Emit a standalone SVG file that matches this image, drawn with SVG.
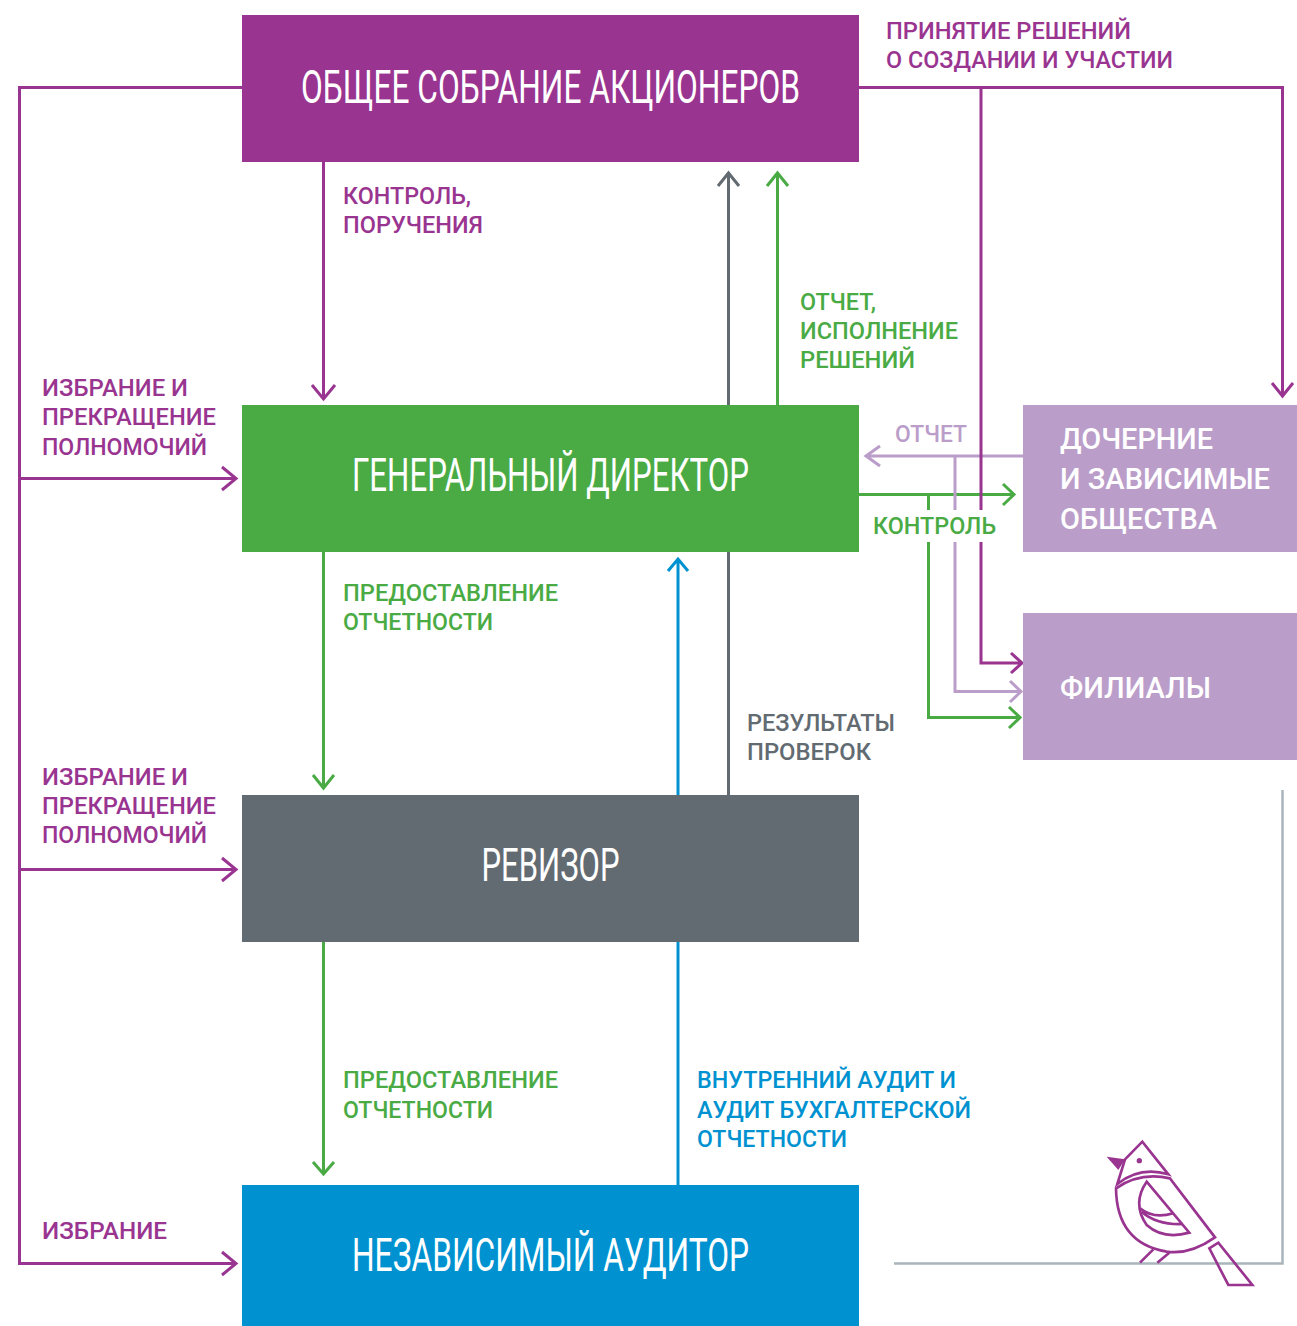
<svg xmlns="http://www.w3.org/2000/svg" width="1297" height="1326" viewBox="0 0 1297 1326">
<style>
.c{fill:none;stroke-width:3}
.p{stroke:#993590}.g{stroke:#4aab45}.d{stroke:#636b72}.b{stroke:#0092d0}.l{stroke:#bb9dca}
.t{font-family:"Roboto","Liberation Sans",sans-serif;font-size:24px;font-weight:500}
.tp{fill:#993590}.tg{fill:#4aab45}.td{fill:#636b72}.tb{fill:#0092d0}.tl{fill:#bb9dca}.tw{fill:#fff}
.s{font-size:29px}
.h{font-family:"Roboto","Liberation Sans",sans-serif;font-size:46px;font-weight:400;fill:#fff;text-anchor:middle}
</style>
<rect width="1297" height="1326" fill="#fff"/>
<g id="connectors">
<path class="c p" d="M242 87.500H19.500V1263.500H236M20 478.500H236M20 869.500H236"/>
<path class="c p" d="M222 467L236 478.500L222 490M222 858L236 869.500L222 881M222 1252L236 1263.500L222 1275"/>
<path class="c p" d="M323.500 162V399M312 385L323.500 399L335 385"/>
<path class="c d" d="M728.500 405V173M718 186L728.500 173L739 186"/>
<path class="c g" d="M777.500 405V173M767 186L777.500 173L788 186"/>
<path class="c p" d="M859 87.500H1282.500V396M1272 383L1282.500 396L1293 383"/>
<path class="c l" d="M1023 456H866M880 446L866 456L880 466"/>
<path class="c g" d="M859 494.500H1014M1003 484L1014 494.500L1003 505"/>
<path class="c l" d="M955 456V691.500H1021M1010 681L1021 691.500L1010 702"/>
<path class="c g" d="M928.500 495V717.500H1020M1009 707L1020 717.500L1009 728"/>
<path class="c p" d="M981 87V663H1022M1011 653L1022 663L1011 673"/>
<path class="c g" d="M323.500 552V788M313 775L323.500 788L334 775"/>
<path class="c b" d="M678 795V559M668 571L678 559L688 571"/>
<path class="c d" d="M728.500 795V552"/>
<path class="c g" d="M323.500 942V1174M313 1162L323.500 1174L334 1162"/>
<path class="c b" d="M678 1185V942"/>
<path d="M894 1263.500H1282.500V790" fill="none" stroke="#a9b5ba" stroke-width="2.500"/>
</g>
<g id="node-shareholders"><rect x="242" y="15" width="617" height="147" fill="#993590"/><text class="h" x="550.500" y="103" textLength="499" lengthAdjust="spacingAndGlyphs">ОБЩЕЕ СОБРАНИЕ АКЦИОНЕРОВ</text></g>
<g id="node-director"><rect x="242" y="405" width="617" height="147" fill="#4aab45"/><text class="h" x="550.500" y="491" textLength="397" lengthAdjust="spacingAndGlyphs">ГЕНЕРАЛЬНЫЙ ДИРЕКТОР</text></g>
<g id="node-revisor"><rect x="242" y="795" width="617" height="147" fill="#636b72"/><text class="h" x="550.500" y="881" textLength="138" lengthAdjust="spacingAndGlyphs">РЕВИЗОР</text></g>
<g id="node-auditor"><rect x="242" y="1185" width="617" height="141" fill="#0092d0"/><text class="h" x="550.500" y="1271" textLength="397" lengthAdjust="spacingAndGlyphs">НЕЗАВИСИМЫЙ АУДИТОР</text></g>
<g id="node-subsidiaries"><rect x="1023" y="405" width="274" height="147" fill="#bb9dca"/>
<text class="t tw s" x="1060" y="449" textLength="153" lengthAdjust="spacingAndGlyphs">ДОЧЕРНИЕ</text>
<text class="t tw s" x="1060" y="489" textLength="210" lengthAdjust="spacingAndGlyphs">И ЗАВИСИМЫЕ</text>
<text class="t tw s" x="1060" y="529" textLength="157" lengthAdjust="spacingAndGlyphs">ОБЩЕСТВА</text></g>
<g id="node-branches"><rect x="1023" y="613" width="274" height="147" fill="#bb9dca"/><text class="t tw s" x="1060" y="698" textLength="151" lengthAdjust="spacingAndGlyphs">ФИЛИАЛЫ</text></g>
<g id="labels">
<rect x="872" y="510" width="125" height="32" fill="#fff"/>
<text class="t tp" x="886" y="39" textLength="245" lengthAdjust="spacingAndGlyphs">ПРИНЯТИЕ РЕШЕНИЙ</text>
<text class="t tp" x="886" y="68" textLength="287" lengthAdjust="spacingAndGlyphs">О СОЗДАНИИ И УЧАСТИИ</text>
<text class="t tp" x="343" y="204" textLength="128" lengthAdjust="spacingAndGlyphs">КОНТРОЛЬ,</text>
<text class="t tp" x="343" y="233" textLength="140" lengthAdjust="spacingAndGlyphs">ПОРУЧЕНИЯ</text>
<text class="t tg" x="800" y="310" textLength="76" lengthAdjust="spacingAndGlyphs">ОТЧЕТ,</text>
<text class="t tg" x="800" y="339" textLength="158" lengthAdjust="spacingAndGlyphs">ИСПОЛНЕНИЕ</text>
<text class="t tg" x="800" y="368" textLength="115" lengthAdjust="spacingAndGlyphs">РЕШЕНИЙ</text>
<text class="t tp" x="42" y="396" textLength="146" lengthAdjust="spacingAndGlyphs">ИЗБРАНИЕ И</text>
<text class="t tp" x="42" y="425" textLength="174" lengthAdjust="spacingAndGlyphs">ПРЕКРАЩЕНИЕ</text>
<text class="t tp" x="42" y="455" textLength="165" lengthAdjust="spacingAndGlyphs">ПОЛНОМОЧИЙ</text>
<text class="t tl" x="895" y="442" textLength="72" lengthAdjust="spacingAndGlyphs">ОТЧЕТ</text>
<text class="t tg" x="873" y="534" textLength="123" lengthAdjust="spacingAndGlyphs">КОНТРОЛЬ</text>
<text class="t tg" x="343" y="601" textLength="215" lengthAdjust="spacingAndGlyphs">ПРЕДОСТАВЛЕНИЕ</text>
<text class="t tg" x="343" y="630" textLength="150" lengthAdjust="spacingAndGlyphs">ОТЧЕТНОСТИ</text>
<text class="t td" x="747" y="731" textLength="148" lengthAdjust="spacingAndGlyphs">РЕЗУЛЬТАТЫ</text>
<text class="t td" x="747" y="760" textLength="124" lengthAdjust="spacingAndGlyphs">ПРОВЕРОК</text>
<text class="t tp" x="42" y="785" textLength="146" lengthAdjust="spacingAndGlyphs">ИЗБРАНИЕ И</text>
<text class="t tp" x="42" y="814" textLength="174" lengthAdjust="spacingAndGlyphs">ПРЕКРАЩЕНИЕ</text>
<text class="t tp" x="42" y="843" textLength="165" lengthAdjust="spacingAndGlyphs">ПОЛНОМОЧИЙ</text>
<text class="t tg" x="343" y="1088" textLength="215" lengthAdjust="spacingAndGlyphs">ПРЕДОСТАВЛЕНИЕ</text>
<text class="t tg" x="343" y="1118" textLength="150" lengthAdjust="spacingAndGlyphs">ОТЧЕТНОСТИ</text>
<text class="t tb" x="697" y="1088" textLength="259" lengthAdjust="spacingAndGlyphs">ВНУТРЕННИЙ АУДИТ И</text>
<text class="t tb" x="697" y="1118" textLength="274" lengthAdjust="spacingAndGlyphs">АУДИТ БУХГАЛТЕРСКОЙ</text>
<text class="t tb" x="697" y="1147" textLength="150" lengthAdjust="spacingAndGlyphs">ОТЧЕТНОСТИ</text>
<text class="t tp" x="42" y="1239" textLength="125" lengthAdjust="spacingAndGlyphs">ИЗБРАНИЕ</text>
</g>
<g id="bird" transform="translate(1090 1130) scale(.3333)" fill="none" stroke="#993590" stroke-width="8">
<path d="M82 162L105 88L157 35L235 133Q150 108 82 162Z"/>
<path d="M50 80L105 88L85 120Z" fill="#993590" stroke="none"/>
<circle cx="148" cy="92" r="8" fill="#993590" stroke="none"/>
<path d="M78 175Q150 125 240 145L375 322Q300 375 230 365Q80 340 78 175Z"/>
<path d="M170 155L298 308Q220 330 170 285Q125 220 170 155Z"/>
<path d="M150 235Q190 268 250 250M155 245Q200 285 278 282"/>
<path d="M190 358L150 398M238 368L202 398"/>
<path d="M358 355L385 338L487 465H415Z"/>
</g>
</svg>
